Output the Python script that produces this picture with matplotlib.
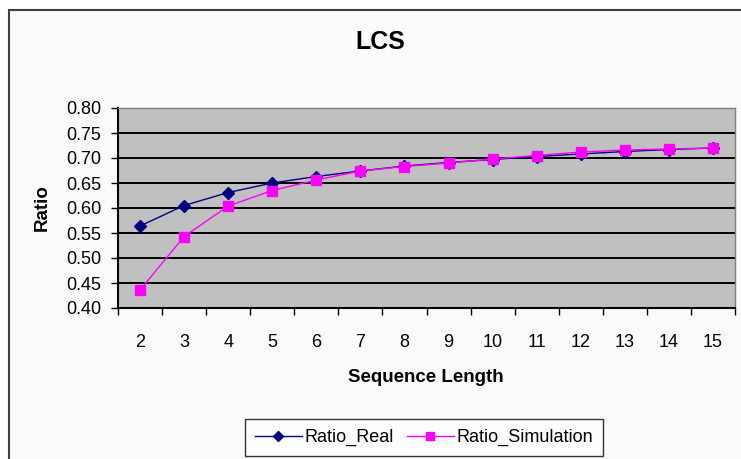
import matplotlib
matplotlib.use("Agg")
import matplotlib.pyplot as plt
from matplotlib.patches import Rectangle

plt.rcParams['font.family'] = ['Liberation Sans', 'DejaVu Sans']

categories = ["2", "3", "4", "5", "6", "7", "8", "9", "10", "11", "12", "13", "14", "15"]
ratio_real = [0.564, 0.605, 0.631, 0.650, 0.663, 0.674, 0.684, 0.691, 0.697, 0.703, 0.708, 0.713, 0.717, 0.720]
ratio_sim = [0.436, 0.543, 0.604, 0.635, 0.656, 0.674, 0.683, 0.690, 0.698, 0.705, 0.712, 0.716, 0.718, 0.720]
y_ticks = [0.40, 0.45, 0.50, 0.55, 0.60, 0.65, 0.70, 0.75, 0.80]

W, H = 741, 459
fig = plt.figure(figsize=(W / 100, H / 100), dpi=100)
fig.patch.set_facecolor('white')

# chart area border
border = Rectangle((9 / W, -0.1), 1.2, 1 - 10 / H + 0.1, transform=fig.transFigure,
                   facecolor='#fbfbfb', edgecolor='#404040', linewidth=1.5, zorder=-10)
fig.patches.append(border)

ax = fig.add_axes([118 / W, 1 - 308 / H, 617 / W, 200 / H])
ax.set_zorder(1)
ax.set_facecolor('#c0c0c0')

x = list(range(len(categories)))
ax.plot(x, ratio_real, color='#000080', marker='D', markersize=6.5, linewidth=1.0,
        label='Ratio_Real', zorder=3)
ax.plot(x, ratio_sim, color='#ff00ff', marker='s', markersize=7, linewidth=1.0,
        label='Ratio_Simulation', zorder=4)

ax.set_xlim(-0.5, len(categories) - 0.5)
ax.set_ylim(0.40, 0.80)
ax.set_yticks(y_ticks)
ax.set_yticklabels([f"{v:.2f}" for v in y_ticks])
for v in y_ticks[1:-1]:
    ax.axhline(v, color='black', linewidth=1.4, zorder=1)

ax.set_xticks([i - 0.5 for i in range(len(categories) + 1)])
ax.set_xticklabels([])
ax.set_xticks(x, minor=True)
ax.set_xticklabels(categories, minor=True)
ax.tick_params(axis='x', which='major', direction='out', length=5, width=1, color='black')
ax.tick_params(axis='x', which='minor', length=0, pad=19, labelsize=13)
ax.tick_params(axis='y', direction='out', length=5, width=1, color='black', pad=7, labelsize=13)

for s in ['left', 'bottom']:
    ax.spines[s].set_color('black')
    ax.spines[s].set_linewidth(1.5)
for s in ['top', 'right']:
    ax.spines[s].set_color('#808080')
    ax.spines[s].set_linewidth(1.0)

fig.text(380 / W, 1 - 42 / H, 'LCS', ha='center', va='center', fontsize=18, fontweight='bold')
fig.text(426 / W, 1 - 378 / H, 'Sequence Length', ha='center', va='center', fontsize=13.5,
         fontweight='bold')
fig.text(42 / W, 1 - 208 / H, 'Ratio', ha='center', va='center', rotation=90, fontsize=13.5,
         fontweight='bold')

leg = fig.legend(loc='center', bbox_to_anchor=(424 / W, 1 - 437.5 / H), ncol=2, fontsize=13,
                 frameon=True, fancybox=False, edgecolor='black', handlelength=2.6,
                 handletextpad=0.15, columnspacing=0.7, borderpad=0.55, borderaxespad=0,
                 markerscale=0.85)
leg.get_frame().set_linewidth(1.0)
leg.get_frame().set_facecolor('white')

fig.savefig('out.png', dpi=100)
